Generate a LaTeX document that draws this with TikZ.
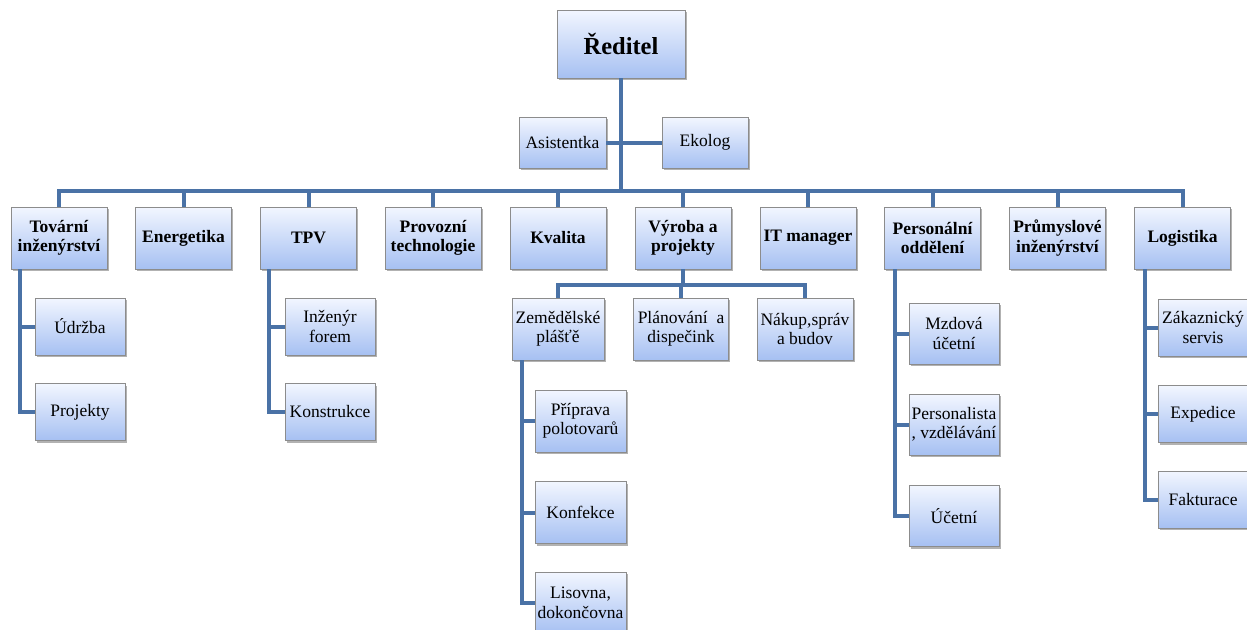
\documentclass[tikz,border=0pt]{standalone}
\usepackage{fontspec}
\setmainfont{Liberation Serif}
\newfontfamily\chartfont{Liberation Serif}
\usetikzlibrary{shadows,calc}
\definecolor{linkblue}{RGB}{74,114,166}
\definecolor{boxtop}{RGB}{242,246,255}
\definecolor{boxbot}{RGB}{166,192,242}
\definecolor{boxedge}{RGB}{140,140,140}
\begin{document}
\begin{tikzpicture}[x=1pt,y=-1pt,
  box/.style={rectangle, draw=boxedge, line width=0.8pt,
    top color=boxtop, bottom color=boxbot,
    drop shadow={shadow xshift=1.5pt, shadow yshift=-2pt, fill=black, opacity=.3},
    align=center, inner sep=0pt, font=\chartfont\fontsize{17.5}{19.5}\selectfont},
  head/.style={box, minimum width=96pt, minimum height=62pt,
    font=\chartfont\fontsize{17.5}{19.5}\selectfont\bfseries},
  sub/.style={box, minimum width=90pt, minimum height=57pt},
  link/.style={draw=linkblue, line width=4pt}]
\useasboundingbox (0,0) rectangle (1247,629);
\clip (0,0) rectangle (1247,629);

% top of the chart
\node[box, minimum width=128pt, minimum height=68pt,
  font=\chartfont\fontsize{24.5}{27}\selectfont\bfseries] (dir) at (621,44) {Ředitel};
\node[box, minimum width=87pt, minimum height=51pt] (asis) at (562.5,142.5) {Asistentka};
\node[box, minimum width=86pt, minimum height=51pt] (eko) at (705,142.5) {Ekolog};
\coordinate (bus) at (621,191);

% departments
\node[head] (tov) at (59,238)     {Tovární\\inženýrství};
\node[head] (ene) at (183.5,238)  {Energetika};
\node[head] (tpv) at (308.5,238)  {TPV};
\node[head] (pro) at (433,238)    {Provozní\\technologie};
\node[head] (kva) at (558,238)    {Kvalita};
\node[head] (vyr) at (683,238)    {Výroba a\\projekty};
\node[head] (itm) at (808,238)    {IT manager};
\node[head] (per) at (932.5,238)  {Personální\\oddělení};
\node[head] (pru) at (1057.5,238) {Průmyslové\\inženýrství};
\node[head] (log) at (1182.5,238) {Logistika};

% Tovární inženýrství
\node[sub] (udr) at (80,326.5) {Údržba};
\node[sub] (prj) at (80,412)   {Projekty};
% TPV
\node[sub] (inz) at (330,326.5) {Inženýr\\forem};
\node[sub] (kon) at (330,412)   {Konstrukce};
% Výroba a projekty
\node[sub, minimum width=92pt, minimum height=62pt] (zem) at (558,329) {Zemědělské\\plášťě};
\node[sub, minimum width=95pt, minimum height=62pt] (pla) at (681,329) {Plánování \ a\\dispečink};
\node[sub, minimum width=96pt, minimum height=62pt] (nak) at (805,329) {Nákup,správ\\a budov};
\node[sub, minimum width=91pt, minimum height=62pt] (pri) at (580.5,421)   {Příprava\\polotovarů};
\node[sub, minimum width=91pt, minimum height=62pt] (knf) at (580.5,512.5) {Konfekce};
\node[sub, minimum width=91pt, minimum height=62pt] (lis) at (580.5,603)   {Lisovna,\\dokončovna};
% Personální oddělení
\node[sub, minimum height=61pt] (mzd) at (954,333.5) {Mzdová\\účetní};
\node[sub, minimum height=61pt] (pst) at (954,424.5) {Personalista\\, vzdělávání};
\node[sub, minimum height=61pt] (uce) at (954,516)   {Účetní};
% Logistika
\node[sub] (zak) at (1203,327.5) {Zákaznický\\servis};
\node[sub] (exp) at (1203,414)   {Expedice};
\node[sub] (fak) at (1203,499.5) {Fakturace};

% connectors
\draw[link] (dir.south) -- (bus);
\draw[link] (asis.east) -- (eko.west);
\foreach \d in {tov,ene,tpv,pro,kva,vyr,itm,per,pru,log}
  \draw[link] (bus) -| (\d.north);

\foreach \c in {udr,prj}
  \draw[link] ($(tov.south west)+(9,0)$) |- (\c.west);
\foreach \c in {inz,kon}
  \draw[link] ($(tpv.south west)+(9,0)$) |- (\c.west);
\foreach \c in {zem,pla,nak}
  \draw[link] (vyr.south) -- ++(0,16) -| (\c.north);
\foreach \c in {pri,knf,lis}
  \draw[link] ($(zem.south west)+(10,0)$) |- (\c.west);
\foreach \c in {mzd,pst,uce}
  \draw[link] ($(per.south west)+(11,0)$) |- (\c.west);
\foreach \c in {zak,exp,fak}
  \draw[link] ($(log.south west)+(11,0)$) |- (\c.west);
\end{tikzpicture}
\end{document}
